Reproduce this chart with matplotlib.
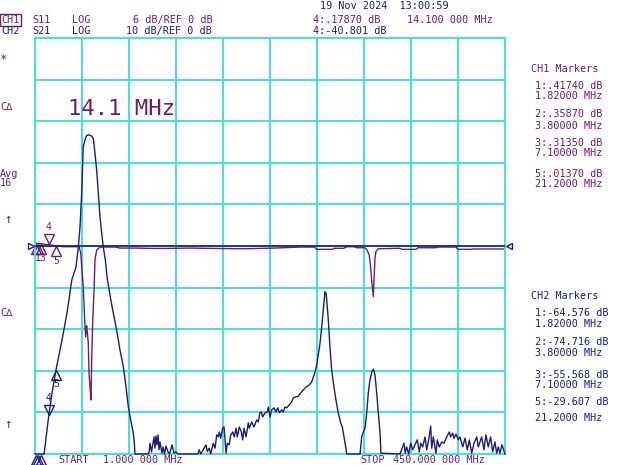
import numpy as np
import matplotlib.pyplot as plt
from matplotlib.transforms import offset_copy

PURPLE = '#6b1d6e'
NAVY = '#1c1c7c'
CYAN = '#4fdcdc'
MONO = 'DejaVu Sans Mono'

# CH1: S11, LOG 6 dB/div, ref 0 dB  (freq MHz, dB)
ch1_freq = [1.0, 1.82, 3.8, 7.1, 14.1, 21.2, 28.0, 35.0, 43.0, 44.7,
            47.1, 48.8, 49.4, 50.3, 51.0, 51.9, 52.6, 53.5, 54.5, 55.2,
            56.1, 57.4, 58.3, 59.9, 63.1, 78.0, 82.0, 100.0, 110.0, 127.0,
            150.0, 170.0, 200.0, 230.0, 254.0, 268.0, 270.0, 285.0, 287.0, 296.0,
            299.0, 306.0, 308.0, 316.0, 317.9, 320.3, 321.6, 322.6, 324.2, 325.3,
            325.8, 326.7, 328.9, 349.0, 352.0, 365.0, 367.0, 384.0, 386.0, 403.0,
            405.0, 418.0, 420.0, 450.0]
ch1_db = [0.45, 0.417, 0.359, 0.314, 0.179, 0.014, -0.1, -0.1, -0.1, -1.0,
          -5.9, -11.7, -13.1, -11.5, -12.4, -14.0, -18.3, -20.3, -22.2, -16.0,
          -11.1, -6.4, -2.0, -0.6, -0.15, -0.15, -0.3, -0.3, -0.35, -0.35,
          -0.3, -0.35, -0.4, -0.3, -0.15, -0.15, -0.48, -0.48, -0.33, -0.33,
          -0.1, -0.1, -0.25, -0.25, -0.5, -1.3, -3.0, -4.9, -7.3, -3.5,
          -1.7, -0.8, -0.4, -0.33, -0.48, -0.48, -0.25, -0.25, -0.15, -0.15,
          -0.48, -0.48, -0.43, -0.43]

# CH2: S21, LOG 10 dB/div, ref 0 dB  (freq MHz, dB)
ch2_freq = [1.0, 1.82, 3.8, 7.1, 9.7, 14.1, 17.5, 21.2, 24.5, 28.0,
            31.3, 34.0, 36.1, 40.2, 42.4, 44.0, 45.6, 47.1, 48.8, 50.3,
            52.9, 55.2, 56.7, 57.6, 59.9, 61.5, 63.1, 64.7, 66.2, 68.2,
            70.1, 74.3, 79.0, 82.2, 85.4, 87.9, 90.1, 92.4, 94.9, 95.9,
            96.5, 109.0,
            109.9, 110.9, 112.3, 113.2, 114.7, 115.6, 116.6, 117.5, 118.5, 119.5,
            120.4, 122.3, 123.3, 124.7, 126.1, 128.1, 129.5, 131.9, 133.8, 135.7,
            137.6, 156.5,
            157.9, 159.3, 164.4, 165.6, 167.5, 168.8, 171.3, 173.0, 174.6, 176.1,
            177.1, 178.4, 180.3, 181.6, 183.5, 184.7, 186.6, 188.0, 189.9, 191.4,
            193.0, 194.3, 196.2, 198.1, 199.4, 200.7, 202.6, 204.8, 205.7, 208.0,
            210.2, 212.8, 214.3, 215.9, 217.2, 218.5, 220.7, 222.9, 223.9, 225.5,
            227.1, 229.3, 231.2, 232.9, 234.4, 236.7, 238.2, 239.8, 241.4, 243.9,
            246.2, 247.8, 250.3, 252.5, 254.8, 257.3, 259.9, 263.0, 265.3, 266.9,
            268.5, 270.1, 271.6, 273.3, 274.9, 276.4, 278.0, 279.0, 279.7, 281.2,
            282.8, 284.4, 286.6, 288.5, 290.7, 293.0, 294.6, 296.2, 297.8, 298.8,
            311.5, 313.1, 314.6, 316.3, 317.9, 319.4, 321.0, 322.7, 324.2, 325.8,
            327.4, 329.0, 330.6, 331.5, 349.7,
            353.5, 354.7, 356.1, 358.0, 359.9, 361.8, 364.0, 366.2, 368.1, 369.5,
            371.4, 373.6, 375.2, 377.1, 379.0, 380.0, 381.5, 384.1, 385.3, 387.2,
            389.5, 391.7, 394.3, 396.8, 398.1, 400.0, 401.3, 403.2, 405.4, 407.0,
            409.6, 411.8, 414.0, 415.9, 418.2, 420.4, 423.0, 424.5, 427.7, 429.9,
            431.8, 434.0, 436.3, 438.2, 440.4, 442.0, 443.6, 445.2, 447.1, 450.0]
ch2_db = [-64.0, -64.6, -74.7, -55.6, -50.0, -40.8, -35.0, -29.6, -25.5, -21.0,
          -16.5, -12.0, -8.2, -5.0, -0.2, 4.6, 12.7, 23.9, 25.5, 26.6,
          26.7, 26.4, 25.8, 23.9, 18.3, 12.7, 7.0, 3.1, -0.2, -3.4,
          -8.0, -14.2, -20.2, -25.0, -29.0, -33.8, -38.6, -41.8, -45.0, -47.4,
          -50.0, -50.0,
          -49.7, -47.4, -49.5, -48.1, -45.9, -48.6, -45.7, -47.8, -45.4, -49.0,
          -47.1, -49.8, -48.3, -50.0, -48.1, -49.5, -50.0, -47.8, -49.8, -49.5,
          -50.0, -50.0,
          -49.0, -50.0, -47.8, -49.4, -48.6, -50.0, -47.4, -48.6, -45.4, -45.9,
          -44.7, -46.2, -43.8, -43.5, -49.8, -47.4, -47.8, -45.4, -44.7, -45.9,
          -43.8, -45.9, -43.5, -44.7, -46.6, -43.8, -45.9, -42.5, -43.8, -42.3,
          -43.5, -41.8, -42.3, -40.1, -39.9, -41.1, -40.1, -39.9, -38.7, -41.1,
          -39.4, -38.9, -39.9, -38.9, -40.1, -39.4, -39.9, -38.7, -38.9, -38.2,
          -37.5, -36.5, -36.3, -36.1, -35.3, -34.6, -33.9, -33.4, -32.7, -31.5,
          -30.3, -28.6, -26.2, -23.3, -19.5, -15.4, -11.0, -11.3, -13.0, -17.8,
          -24.3, -29.8, -33.9, -37.0, -40.1, -42.5, -43.5, -45.9, -48.3, -50.0,
          -50.0, -45.9, -44.7, -43.8, -40.1, -35.3, -32.2, -30.3, -29.6, -31.0,
          -35.3, -40.1, -45.0, -49.8, -50.0,
          -47.4, -49.8, -48.3, -50.0, -47.4, -49.0, -47.8, -46.6, -49.5, -47.4,
          -48.3, -45.9, -49.0, -46.6, -43.3, -48.6, -45.9, -49.8, -46.6, -48.3,
          -47.1, -47.4, -45.9, -44.7, -45.9, -45.0, -46.2, -45.2, -46.6, -45.9,
          -48.3, -46.2, -49.0, -46.6, -49.8, -47.4, -45.9, -48.3, -45.9, -49.0,
          -45.4, -48.3, -45.9, -49.5, -47.1, -49.8, -48.3, -49.8, -47.8, -50.0]
assert len(ch1_freq) == len(ch1_db) and len(ch2_freq) == len(ch2_db)

# markers
mk_names = ['1', '2', '3', '4', '5']
mk_freq = [1.82, 3.8, 7.1, 14.1, 21.2]
mk_ch1 = [0.4174, 0.3587, 0.3135, 0.1787, 0.0137]
mk_ch2 = [-64.576, -74.716, -55.568, -40.801, -29.607]
ch1_list = ['1:.41740 dB', '1.82000 MHz', '2:.35870 dB', '3.80000 MHz',
            '3:.31350 dB', '7.10000 MHz', '5:.01370 dB', '21.2000 MHz']
ch2_list = ['1:-64.576 dB', '1.82000 MHz', '2:-74.716 dB', '3.80000 MHz',
            '3:-55.568 dB', '7.10000 MHz', '5:-29.607 dB', '21.2000 MHz']

W, H = 640, 465
fig = plt.figure(figsize=(6.4, 4.65), dpi=100)


def txt(x, y, s, c, size=7.3, **kw):
    fig.text(x / W, 1 - y / H, s, color=c, fontsize=size, family=MONO,
             va='center', ha='left', **kw)


ax = fig.add_axes([35 / W, 1 - 454 / H, 470 / W, 416 / H])
ax.set_xlim(1, 450)
ax.set_ylim(-30, 30)
ax.set_xticks(np.linspace(1, 450, 11))
ax.set_yticks(np.arange(-30, 31, 6))
ax.grid(True, color=CYAN, lw=1.5)
ax.tick_params(length=0, labelbottom=False, labelleft=False)
for s in ax.spines.values():
    s.set_color(CYAN)
    s.set_linewidth(1.5)

ax2 = ax.twinx()
ax2.set_ylim(-50, 50)
ax2.tick_params(length=0, labelright=False)
for s in ax2.spines.values():
    s.set_visible(False)

ax.plot(ch1_freq, ch1_db, color=PURPLE, lw=1.0, clip_on=False)
ax2.axhline(0, color=NAVY, lw=1.2)
ax2.plot(ch2_freq, np.clip(ch2_db, -50, None), color=NAVY, lw=1.0, clip_on=False)

# reference position arrows
ax2.plot([-0.008], [0.5], marker='>', ms=4, mfc='white', mec=NAVY, mew=1,
         transform=ax2.transAxes, clip_on=False)
ax2.plot([1.008], [0.5], marker='<', ms=4, mfc='white', mec=NAVY, mew=1,
         transform=ax2.transAxes, clip_on=False)


def draw_markers(a, vals, color, lo, show):
    for name, f, v in zip(mk_names, mk_freq, vals):
        v = max(v, lo)
        if name == '4':
            a.plot(f, v, marker='v', ms=7, mfc='none', mec=color, mew=1, clip_on=False,
                   transform=offset_copy(a.transData, fig=fig, y=4, units='points'))
            dy = 13
        else:
            a.plot(f, v, marker='^', ms=7, mfc='none', mec=color, mew=1, clip_on=False,
                   transform=offset_copy(a.transData, fig=fig, y=-4, units='points'))
            dy = -11
        if name in show:
            a.text(f, v, name, color=color, fontsize=7, family=MONO, ha='center', va='center',
                   transform=offset_copy(a.transData, fig=fig, y=dy, units='points'))


draw_markers(ax, mk_ch1, PURPLE, -30, ['4', '5'])
draw_markers(ax2, mk_ch2, NAVY, -50, ['4', '5'])
# labels 1..3 of CH1 pile up on each other next to the start of the sweep
txt(35, 258, '13', PURPLE, size=7)

# header
fig.text(1 / W, 1 - 20 / H, 'CH1', color=PURPLE, fontsize=7.3, family=MONO, va='center',
         bbox=dict(boxstyle='square,pad=0.12', fc='white', ec=PURPLE, lw=1))
txt(32, 20, 'S11', PURPLE)
txt(72, 20, 'LOG', PURPLE)
txt(133, 20, '6 dB/REF 0 dB', PURPLE)
txt(1, 31, 'CH2', NAVY)
txt(32, 31, 'S21', NAVY)
txt(72, 31, 'LOG', NAVY)
txt(126, 31, '10 dB/REF 0 dB', NAVY)
txt(320, 6, '19 Nov 2024  13:00:59', NAVY)
txt(313, 20, '4:.17870 dB', PURPLE)
txt(407, 20, '14.100 000 MHz', PURPLE)
txt(313, 31, '4:-40.801 dB', NAVY)

# left annotations
txt(-1, 59, '*', PURPLE, size=9)
txt(0, 107, 'C\u2206', PURPLE)
txt(0, 174, 'Avg', PURPLE)
txt(0, 183, '16', PURPLE)
txt(4, 219, '\u2191', PURPLE, size=9)
txt(0, 313, 'C\u2206', PURPLE)
txt(4, 424, '\u2191', PURPLE, size=9)

txt(68, 109, '14.1 MHz', PURPLE, size=16)

# marker tables
txt(531, 69, 'CH1 Markers', PURPLE)
for s, y in zip(ch1_list, [86, 96, 114, 126, 142.5, 152.5, 174, 184]):
    txt(535, y, s, PURPLE)
txt(531, 296, 'CH2 Markers', NAVY)
for s, y in zip(ch2_list, [313, 324, 342, 353, 374.5, 384.5, 402, 418]):
    txt(535, y, s, NAVY)

# footer
txt(58, 459.5, 'START', PURPLE)
txt(103, 459.5, '1.000 000 MHz', PURPLE)
txt(360, 459.5, 'STOP', PURPLE)
txt(393, 459.5, '450.000 000 MHz', PURPLE)

fig.savefig('out.png', dpi=100, facecolor='white')
